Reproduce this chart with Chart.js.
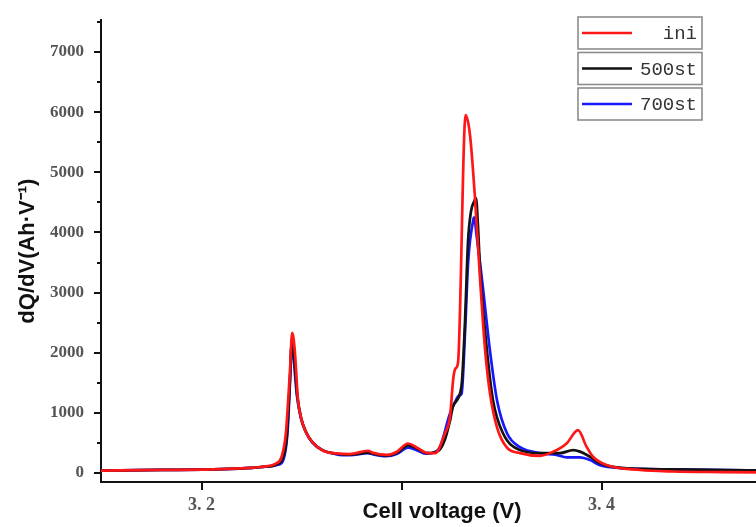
<!DOCTYPE html>
<html>
<head>
<meta charset="utf-8">
<script src="https://cdn.jsdelivr.net/npm/chart.js@4/dist/chart.umd.min.js"></script>
<style>
  html, body { margin: 0; padding: 0; background: #fff; overflow: hidden; }
  #wrapper { width: 756px; height: 527px; overflow: hidden; }
</style>
</head>
<body>
<div id="wrapper">
  <canvas id="dqdv" width="783" height="527"></canvas>
</div>
<script>
"use strict";

// incremental capacity curves, dQ/dV vs cell voltage
const seriesNames = ["ini", "500st", "700st"];
const seriesColors = ["rgb(255,22,22)", "#121212", "rgb(24,24,255)"];

const iniV = [3.1497, 3.18, 3.21, 3.225, 3.2292, 3.2374, 3.2400, 3.2421, 3.2441, 3.2453, 3.2466, 3.2482,
  3.2500, 3.2525, 3.2557, 3.2607, 3.2675, 3.2742, 3.2832, 3.2857, 3.2925, 3.2975, 3.3032, 3.3075, 3.3125,
  3.3167, 3.3217, 3.3242, 3.3259, 3.3270, 3.3282, 3.3320, 3.3342, 3.3367, 3.3392, 3.3417, 3.3442, 3.3477,
  3.3527, 3.3592, 3.3692, 3.3757, 3.3825, 3.3882, 3.3925, 3.3957, 3.4025, 3.4192, 3.4357, 3.46, 3.4907];
const iniQ = [40, 50, 65, 85, 100, 160, 270, 650, 1650, 2330, 2030, 1210,
  880, 660, 500, 370, 325, 315, 370, 335, 300, 350, 490, 425, 335,
  330, 660, 935, 1590, 1740, 1830, 5950, 5620, 4570, 3240, 2070, 1320, 760,
  420, 330, 285, 352, 491, 712, 435, 270, 132, 50, 25, 15, 8];

const st500V = [3.1497, 3.18, 3.21, 3.225, 3.2300, 3.2380, 3.2406, 3.2426, 3.2444, 3.2451, 3.2462, 3.2478,
  3.2497, 3.2522, 3.2555, 3.2605, 3.2675, 3.2742, 3.2832, 3.2857, 3.2925, 3.2975, 3.3032, 3.3075, 3.3125,
  3.3167, 3.3192, 3.3217, 3.3242, 3.3257, 3.3277, 3.3292, 3.3302, 3.3317, 3.3332, 3.3347, 3.3362, 3.3372,
  3.3382, 3.3392, 3.3427, 3.3457, 3.3507, 3.3592, 3.3692, 3.3792, 3.3857, 3.3892, 3.3942, 3.3992, 3.4107,
  3.4357, 3.4907];
const st500Q = [40, 50, 65, 85, 100, 150, 250, 600, 1700, 2180, 1950, 1300,
  920, 680, 510, 380, 320, 305, 340, 320, 290, 330, 460, 410, 330,
  345, 390, 560, 870, 1110, 1210, 1320, 1530, 2520, 3840, 4350, 4510, 4570,
  4100, 3400, 2030, 1210, 660, 380, 330, 330, 380, 355, 270, 160, 80,
  60, 38];

const st700V = [3.1497, 3.18, 3.21, 3.225, 3.2305, 3.2385, 3.2410, 3.2430, 3.2443, 3.2449, 3.2460, 3.2476,
  3.2495, 3.2520, 3.2553, 3.2603, 3.2675, 3.2742, 3.2832, 3.2857, 3.2925, 3.2975, 3.3032, 3.3075, 3.3125,
  3.3167, 3.3192, 3.3242, 3.3267, 3.3288, 3.3300, 3.3317, 3.3333, 3.3358, 3.3363, 3.3375, 3.3392, 3.3407,
  3.3442, 3.3477, 3.3527, 3.3592, 3.3692, 3.3775, 3.3825, 3.3892, 3.3942, 3.3992, 3.4107, 3.4357, 3.4907];
const st700Q = [40, 50, 65, 85, 100, 140, 230, 700, 1600, 2120, 1900, 1300,
  930, 690, 510, 380, 310, 295, 330, 310, 280, 315, 420, 380, 320,
  350, 430, 990, 1180, 1290, 1320, 2320, 3520, 4200, 4250, 3950, 3500, 3070,
  2030, 1210, 660, 430, 330, 300, 260, 260, 215, 130, 80, 60, 38];

// axis ticks
const xTicks = [3.2, 3.3, 3.4];
const xTickLabels = ["3. 2", "", "3. 4"];
const yTicks = [0, 1000, 2000, 3000, 4000, 5000, 6000, 7000];
const yMinor = [500, 1500, 2500, 3500, 4500, 5500, 6500, 7500];

function toPoints(xs, ys) {
  return xs.map((x, i) => ({ x: x, y: ys[i] }));
}

const allSeries = [toPoints(iniV, iniQ), toPoints(st500V, st500Q), toPoints(st700V, st700Q)];

// short ticks between the labelled ones on the y axis
const minorTicks = {
  id: "minorTicks",
  afterDraw(chart) {
    const y = chart.scales.y;
    const ctx = chart.ctx;
    ctx.save();
    ctx.strokeStyle = "#121212";
    ctx.lineWidth = 2;
    for (const v of yMinor) {
      const py = Math.round(y.getPixelForValue(v));
      ctx.beginPath();
      ctx.moveTo(y.right - 4, py);
      ctx.lineTo(y.right, py);
      ctx.stroke();
    }
    ctx.restore();
  }
};

// one framed box per series, stacked top right
const boxLegend = {
  id: "boxLegend",
  afterDraw(chart, args, opts) {
    const ctx = chart.ctx;
    ctx.save();
    chart.data.datasets.forEach((ds, i) => {
      const top = opts.top + i * opts.step;
      const mid = top + opts.height / 2;
      ctx.fillStyle = "#fff";
      ctx.fillRect(opts.left, top, opts.width, opts.height);
      ctx.strokeStyle = "#8c8c8c";
      ctx.lineWidth = 1.6;
      ctx.strokeRect(opts.left, top, opts.width, opts.height);
      ctx.strokeStyle = ds.borderColor;
      ctx.lineWidth = 2.5;
      ctx.beginPath();
      ctx.moveTo(opts.left + 4, mid);
      ctx.lineTo(opts.left + 54, mid);
      ctx.stroke();
      ctx.fillStyle = "#333";
      ctx.font = "19px 'Liberation Mono', monospace";
      ctx.textAlign = "right";
      ctx.textBaseline = "middle";
      ctx.fillText(ds.label, opts.left + opts.width - 5, mid + 1);
    });
    ctx.restore();
  }
};

const chart = new Chart(document.getElementById("dqdv"), {
  type: "line",
  data: {
    datasets: allSeries.map((pts, i) => ({
      label: seriesNames[i],
      data: pts,
      borderColor: seriesColors[i],
      borderWidth: 2.7,
      pointRadius: 0,
      fill: false,
      cubicInterpolationMode: "monotone"
    }))
  },
  options: {
    responsive: false,
    animation: false,
    devicePixelRatio: 1,
    layout: { padding: { top: 18, left: 0, right: 0, bottom: 0 } },
    plugins: {
      legend: { display: false },
      tooltip: { enabled: false },
      boxLegend: { left: 578, top: 17, step: 35.5, width: 124, height: 32 }
    },
    scales: {
      x: {
        type: "linear",
        min: 3.1497,
        max: 3.4907,
        afterFit(scale) { scale.height = 45; },
        afterBuildTicks(scale) { scale.ticks = xTicks.map(v => ({ value: v })); },
        grid: { drawOnChartArea: false, drawTicks: true, tickLength: 8, color: "#121212", lineWidth: 2 },
        border: { display: true, color: "#121212", width: 2 },
        ticks: {
          autoSkip: false,
          maxRotation: 0,
          padding: 5,
          color: "#555",
          font: { family: "'Liberation Serif', serif", size: 18, weight: "bold" },
          callback: (v) => {
            const k = xTicks.findIndex(t => Math.abs(t - v) < 1e-6);
            return k >= 0 ? xTickLabels[k] : "";
          }
        },
        title: {
          display: true,
          text: "Cell voltage (V)",
          color: "#111",
          font: { family: "'Liberation Sans', Arial, sans-serif", size: 22, weight: "bold" },
          padding: { top: 0, bottom: 2 }
        }
      },
      y: {
        min: -150,
        max: 7530,
        afterFit(scale) { scale.width = 101; },
        afterBuildTicks(scale) { scale.ticks = yTicks.map(v => ({ value: v })); },
        grid: { drawOnChartArea: false, drawTicks: true, tickLength: 7, color: "#121212", lineWidth: 2 },
        border: { display: true, color: "#121212", width: 2 },
        ticks: {
          padding: 10,
          color: "#555",
          font: { family: "'Liberation Serif', serif", size: 17, weight: "bold" },
          callback: (v) => String(v)
        },
        title: {
          display: true,
          text: "dQ/dV(Ah·V⁻¹)",
          color: "#111",
          font: { family: "'Liberation Sans', Arial, sans-serif", size: 22, weight: "bold" },
          padding: { top: 15, bottom: 0 }
        }
      }
    }
  },
  plugins: [minorTicks, boxLegend]
});
</script>
</body>
</html>
